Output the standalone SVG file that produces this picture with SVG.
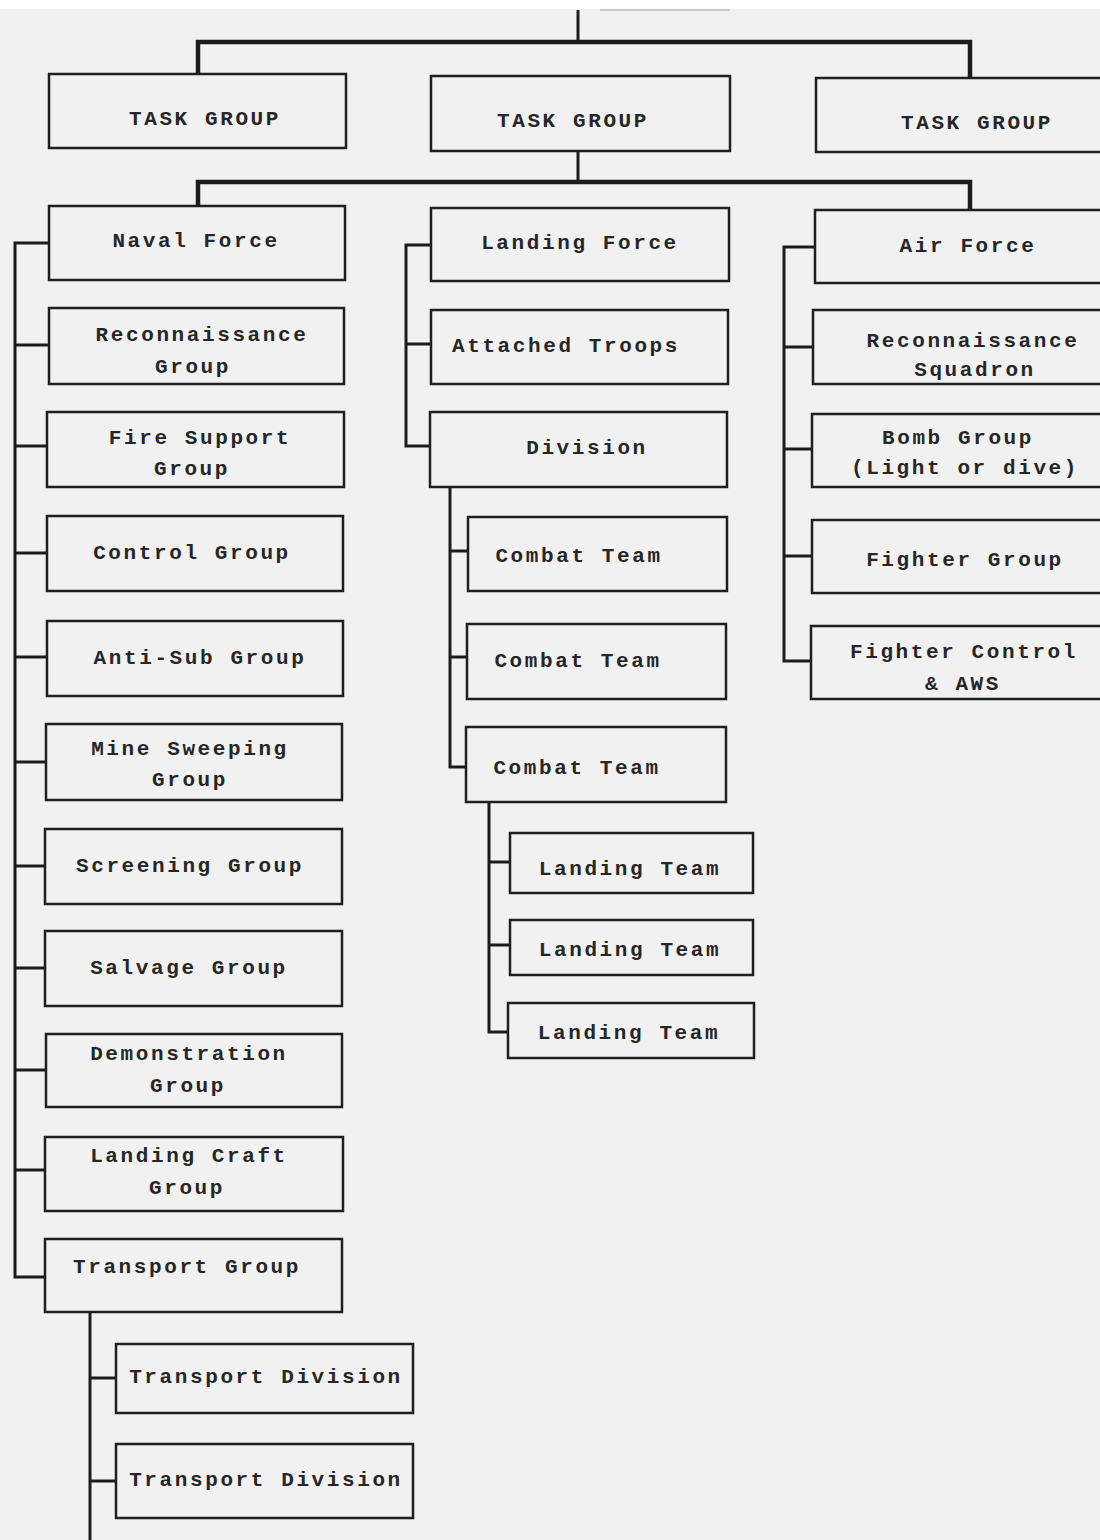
<svg xmlns="http://www.w3.org/2000/svg" width="1100" height="1540" viewBox="0 0 1100 1540">
<style>
.bg{fill:#f1f1f1}
.box{fill:none;stroke:#1f1f1f;stroke-width:2.5}
.t{font-family:"Liberation Mono","DejaVu Sans Mono",monospace;font-size:21px;font-weight:bold;letter-spacing:2.6px;fill:#262626;text-anchor:middle}
.c{fill:none;stroke:#1c1c1c;stroke-width:3}
.bar{fill:none;stroke:#1c1c1c;stroke-width:4.5}
</style>
<rect class="bg" x="0" y="0" width="1100" height="1540"/>
<rect x="0" y="0" width="1100" height="9" fill="#ffffff"/>
<line x1="600" y1="10" x2="730" y2="10" stroke="#bdbdbd" stroke-width="1.5"/>
<g id="connectors">
<path class="c" d="M578,10 V42"/>
<path class="bar" d="M198,75 V42 H970 V78"/>
<path class="c" d="M578,151 V182"/>
<path class="bar" d="M198,206 V182 H970 V210"/>
<path class="c" d="M49,243 H15 V1277 H45"/>
<path class="c" d="M15,345 H49 M15,446 H47 M15,553 H47 M15,657 H47 M15,762 H46 M15,866 H45 M15,968 H45 M15,1070 H46 M15,1170 H45"/>
<path class="c" d="M90,1312 V1540 M90,1378 H116 M90,1481 H116"/>
<path class="c" d="M431,245 H406 V446 H430 M406,344 H431"/>
<path class="c" d="M450,487 V767 H466 M450,551 H468 M450,657 H467"/>
<path class="c" d="M489,802 V1032 H508 M489,862 H510 M489,945 H510"/>
<path class="c" d="M815,247 H784 V661 H811 M784,347 H813 M784,449 H812 M784,556 H812"/>
</g>
<g id="tg1"><rect class="box" x="49" y="74" width="297" height="74"/><text class="t" x="205" y="125">TASK GROUP</text></g>
<g id="tg2"><rect class="box" x="431" y="76" width="299" height="75"/><text class="t" x="573" y="127">TASK GROUP</text></g>
<g id="tg3"><rect class="box" x="816" y="78" width="300" height="74"/><text class="t" x="977" y="129">TASK GROUP</text></g>
<g id="naval"><rect class="box" x="49" y="206" width="296" height="74"/><text class="t" x="196" y="247">Naval Force</text></g>
<g id="landing"><rect class="box" x="431" y="208" width="298" height="73"/><text class="t" x="580" y="249">Landing Force</text></g>
<g id="air"><rect class="box" x="815" y="210" width="300" height="73"/><text class="t" x="968" y="252">Air Force</text></g>
<g id="recon"><rect class="box" x="49" y="308" width="295" height="76"/><text class="t" x="202" y="341">Reconnaissance</text><text class="t" x="193" y="373">Group</text></g>
<g id="fire"><rect class="box" x="47" y="412" width="297" height="75"/><text class="t" x="200" y="444">Fire Support</text><text class="t" x="192" y="475">Group</text></g>
<g id="control"><rect class="box" x="47" y="516" width="296" height="75"/><text class="t" x="192" y="559">Control Group</text></g>
<g id="antisub"><rect class="box" x="47" y="621" width="296" height="75"/><text class="t" x="200" y="664">Anti-Sub Group</text></g>
<g id="mine"><rect class="box" x="46" y="724" width="296" height="76"/><text class="t" x="190" y="755">Mine Sweeping</text><text class="t" x="190" y="786">Group</text></g>
<g id="screen"><rect class="box" x="45" y="829" width="297" height="75"/><text class="t" x="190" y="872">Screening Group</text></g>
<g id="salvage"><rect class="box" x="45" y="931" width="297" height="75"/><text class="t" x="189" y="974">Salvage Group</text></g>
<g id="demo"><rect class="box" x="46" y="1034" width="296" height="73"/><text class="t" x="189" y="1060">Demonstration</text><text class="t" x="188" y="1092">Group</text></g>
<g id="craft"><rect class="box" x="45" y="1137" width="298" height="74"/><text class="t" x="189" y="1162">Landing Craft</text><text class="t" x="187" y="1194">Group</text></g>
<g id="transport"><rect class="box" x="45" y="1239" width="297" height="73"/><text class="t" x="187" y="1273">Transport Group</text></g>
<g id="tdiv1"><rect class="box" x="116" y="1344" width="297" height="69"/><text class="t" x="266" y="1383">Transport Division</text></g>
<g id="tdiv2"><rect class="box" x="116" y="1444" width="297" height="74"/><text class="t" x="266" y="1486">Transport Division</text></g>
<g id="attached"><rect class="box" x="431" y="310" width="297" height="74"/><text class="t" x="566" y="352">Attached Troops</text></g>
<g id="division"><rect class="box" x="430" y="412" width="297" height="75"/><text class="t" x="587" y="454">Division</text></g>
<g id="ct1"><rect class="box" x="468" y="517" width="259" height="74"/><text class="t" x="579" y="562">Combat Team</text></g>
<g id="ct2"><rect class="box" x="467" y="624" width="259" height="75"/><text class="t" x="578" y="667">Combat Team</text></g>
<g id="ct3"><rect class="box" x="466" y="727" width="260" height="75"/><text class="t" x="577" y="774">Combat Team</text></g>
<g id="lt1"><rect class="box" x="510" y="833" width="243" height="60"/><text class="t" x="630" y="875">Landing Team</text></g>
<g id="lt2"><rect class="box" x="510" y="920" width="243" height="55"/><text class="t" x="630" y="956">Landing Team</text></g>
<g id="lt3"><rect class="box" x="508" y="1003" width="246" height="55"/><text class="t" x="629" y="1039">Landing Team</text></g>
<g id="reconsq"><rect class="box" x="813" y="310" width="300" height="74"/><text class="t" x="973" y="347">Reconnaissance</text><text class="t" x="975" y="376">Squadron</text></g>
<g id="bomb"><rect class="box" x="812" y="414" width="300" height="73"/><text class="t" x="958" y="444">Bomb Group</text><text class="t" x="965" y="474">(Light or dive)</text></g>
<g id="fighter"><rect class="box" x="812" y="520" width="300" height="73"/><text class="t" x="965" y="566">Fighter Group</text></g>
<g id="fcontrol"><rect class="box" x="811" y="626" width="300" height="73"/><text class="t" x="964" y="658">Fighter Control</text><text class="t" x="963" y="690">&amp; AWS</text></g>
</svg>
